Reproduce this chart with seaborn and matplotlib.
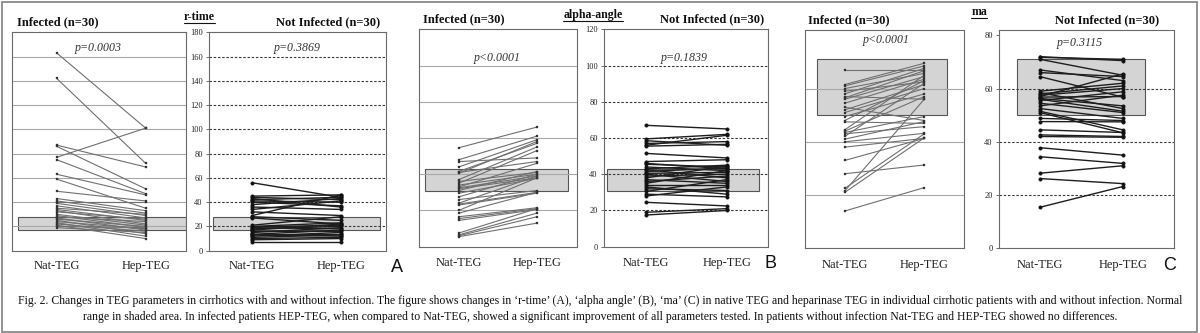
import numpy as np
import pandas as pd
import matplotlib
matplotlib.use("Agg")
import matplotlib.pyplot as plt
from matplotlib.patches import Rectangle
from matplotlib.lines import Line2D
import seaborn as sns

# ---------------- data ----------------
tests = ["Nat-TEG", "Hep-TEG"]

# r-time
rtime_inf_nat = [163, 142, 87, 86, 77, 75, 63, 59, 49, 43, 41, 40, 39, 37, 35,
                 34, 33, 32, 30, 29, 28, 27, 26, 25, 24, 23, 22, 21, 20, 19]
rtime_inf_hep = [101, 72, 69, 51, 101, 47, 46, 35, 41, 33, 31, 40, 29, 27, 30,
                 25, 22, 26, 21, 19, 24, 17, 20, 14, 18, 12, 16, 10, 19, 15]
rtime_non_nat = [56, 45, 44, 43, 42, 41, 40, 38, 36, 34, 32, 29, 28, 27, 21,
                 20, 19.5, 19, 18, 17, 16, 15, 14, 13.5, 13, 12, 11, 10, 9, 7]
rtime_non_hep = [44, 46, 42, 36, 44, 40, 37, 43, 34, 41, 29, 46, 25, 22, 28,
                 23, 21, 18, 20, 22, 16, 19, 14, 17, 12, 15, 13, 11, 10, 7]

# alpha-angle
alpha_inf_nat = [54.6, 48, 47, 44, 41.5, 41, 40.5, 37, 36, 35, 34, 33, 32.5, 32, 31,
                 29.5, 27.5, 26, 24, 23.5, 23, 20, 18.5, 16.5, 15.5, 14.5, 7.5, 6.5, 6, 5.5]
alpha_inf_hep = [66, 61, 49, 59, 57, 47, 58, 55, 41, 53, 40, 46, 39, 38, 41.5,
                 37.7, 40, 31, 39, 30, 29.5, 38, 30, 21.5, 21, 20.5, 21, 18.5, 16.5, 13]
alpha_non_nat = [67, 59.5, 58.5, 57, 56, 55.5, 51.5, 47, 46, 45.5, 44, 43, 42.5, 41.5, 40.5,
                 40, 39, 38, 37, 36, 35, 34, 33, 32, 30.5, 29, 28, 24.5, 19, 17.5]
alpha_non_hep = [65, 62, 56, 58, 61.5, 56.5, 49, 48, 43, 44, 42, 45, 38, 43.5, 41,
                 36, 40, 44.5, 35, 39, 42, 34, 29, 31, 37, 27.5, 33, 22.5, 21, 20]

# ma
ma_inf_nat = [67, 61.5, 61, 60, 59, 58, 57, 56.5, 56, 54.5, 53, 52, 51, 49.5, 48,
              47.5, 44.5, 44, 43.5, 43, 42, 41, 40, 38, 33, 28, 22.5, 21.5, 21, 14]
ma_inf_hep = [67, 69.5, 68.5, 65.7, 62.5, 67.6, 56, 66.7, 64.5, 63.5, 48, 61.5, 60, 58, 63,
              46.9, 65, 57, 49.5, 45.7, 62, 47.6, 43.2, 41.3, 41.3, 31.3, 43, 56, 41.5, 22.8]
ma_non_nat = [72, 71.7, 71, 67, 66, 64.5, 59, 58.5, 58, 57.5, 57, 56.8, 56.3, 56, 55.5,
              54.5, 53.5, 52.5, 51.5, 51, 48.8, 47.6, 44.5, 42.6, 42, 37.8, 34.4, 28.2, 26.2, 15.4]
ma_non_hep = [70.5, 71, 65, 63, 64.5, 56.8, 62, 52.5, 61, 60, 65.5, 57, 53.5, 51.5, 58.8,
              51, 57.5, 48.8, 44.5, 43.4, 48, 47.5, 43.5, 42, 41.7, 35, 31.9, 31, 24.3, 23.2]

p_values = ["p=0.0003", "p=0.3869", "p<0.0001", "p=0.1839", "p<0.0001", "p=0.3115"]
parameters = ["r-time", "alpha-angle", "ma"]
panel_letters = ["A", "B", "C"]
normal_ranges = [(17, 28), (31, 43), (50, 71)]
y_limits = [(0, 180), (0, 120), (0, 82)]
y_ticks = [list(range(0, 181, 20)), list(range(0, 121, 20)), list(range(0, 81, 20))]
grid_levels = [list(range(20, 161, 20)), list(range(20, 101, 20)), [20, 40, 60]]

caption_1 = ("Fig. 2. Changes in TEG parameters in cirrhotics with and without infection. "
             "The figure shows changes in \u2018r-time\u2019 (A), \u2018alpha angle\u2019 (B), "
             "\u2018ma\u2019 (C) in native TEG and heparinase TEG in individual cirrhotic "
             "patients with and without infection. Normal")
caption_2 = ("range in shaded area. In infected patients HEP-TEG, when compared to Nat-TEG, "
             "showed a significant improvement of all parameters tested. In patients without "
             "infection Nat-TEG and HEP-TEG showed no differences.")


def long_form(nat, hep):
    n = len(nat)
    return pd.DataFrame({
        "patient": list(range(n)) * 2,
        "pos": [0] * n + [1] * n,
        "value": list(nat) + list(hep),
    })


panel_data = [
    (long_form(rtime_inf_nat, rtime_inf_hep), long_form(rtime_non_nat, rtime_non_hep)),
    (long_form(alpha_inf_nat, alpha_inf_hep), long_form(alpha_non_nat, alpha_non_hep)),
    (long_form(ma_inf_nat, ma_inf_hep), long_form(ma_non_nat, ma_non_hep)),
]

# ---------------- layout (pixels on a 1200 x 333 canvas) ----------------
W, H = 1200, 333
sns.set_style("white")
plt.rcParams["font.family"] = ["Liberation Serif", "DejaVu Serif"]

fig = plt.figure(figsize=(W / 100, H / 100), dpi=100)
fig.patch.set_facecolor("white")


def px_axes(x0, x1, y0, y1):
    return fig.add_axes([x0 / W, 1 - y1 / H, (x1 - x0) / W, (y1 - y0) / H])


# axes boxes, x-limits and shaded band extents for each parameter panel
layout = [
    dict(boxes=[(12.3, 185.7, 32.3, 250.7), (209, 385.7, 32.3, 250.7)],
         xlims=[(-0.499, 1.450), (-0.49, 1.51)],
         band=[(0.033, 1.0), (0.024, 0.97)],
         inf_txt=(16.7, 22), non_txt=(380, 22), title=(199, 17),
         p_y=47.7, p_x=[98.5, 297.5], letter=(397, 267), pad=9.5),
    dict(boxes=[(419.3, 576.7, 29.3, 246.7), (604, 768.3, 29.3, 246.7)],
         xlims=[(-0.504, 1.512), (-0.521, 1.515)],
         band=[(0.038, 0.947), (0.016, 0.943)],
         inf_txt=(422.7, 19.3), non_txt=(764, 19.3), title=(593, 15),
         p_y=58.3, p_x=[497, 684.5], letter=(770, 263), pad=10),
    dict(boxes=[(805, 964, 30, 248.3), (999, 1174, 30, 248.3)],
         xlims=[(-0.5, 1.5), (-0.492, 1.618)],
         band=[(0.077, 0.891), (0.10, 0.837)],
         inf_txt=(808.3, 20.7), non_txt=(1159.3, 20.7), title=(979.3, 12.3),
         p_y=[40, 43.3], p_x=[886, 1080], letter=(1170, 265), pad=11),
]

frame_col = "#6a6a6a"
for k in range(3):
    L = layout[k]
    for side in range(2):
        x0, x1, y0, y1 = L["boxes"][side]
        ax = px_axes(x0, x1, y0, y1)
        df = panel_data[k][side]
        infected = side == 0
        if infected:
            sns.lineplot(data=df, x="pos", y="value", units="patient", estimator=None,
                         ax=ax, color="#707070", linewidth=0.8, marker="s",
                         markersize=1.9, markerfacecolor="#333333",
                         markeredgecolor="#333333", markeredgewidth=0.2,
                         legend=False, zorder=3)
        else:
            sns.lineplot(data=df, x="pos", y="value", units="patient", estimator=None,
                         ax=ax, color="#1e1e1e", linewidth=1.0, marker="o",
                         markersize=2.6, markerfacecolor="#111111",
                         markeredgecolor="#111111", markeredgewidth=0.2,
                         legend=False, zorder=3)
        ax.set_xlim(*L["xlims"][side])
        ax.set_ylim(*y_limits[k])
        lo, hi = normal_ranges[k]
        bx0, bx1 = L["band"][side]
        ax.add_patch(Rectangle((bx0, lo), bx1 - bx0, hi - lo,
                               transform=ax.get_yaxis_transform(),
                               facecolor="#d4d4d4", edgecolor="#555555",
                               linewidth=0.8, zorder=1))
        for g in grid_levels[k]:
            if infected:
                ax.axhline(g, color="#a8a8a8", linewidth=0.8, zorder=1.5)
            else:
                ax.axhline(g, color="#3a3a3a", linewidth=0.8,
                           linestyle=(0, (2.2, 1.6)), zorder=1.5)
        ax.set_xticks([0, 1])
        ax.set_xticklabels(tests, fontsize=9, color="#222222")
        ax.tick_params(axis="x", length=0, pad=L["pad"] / 1.389)
        if infected:
            ax.set_yticks([])
        else:
            ax.set_yticks(y_ticks[k])
            ax.set_yticklabels([str(t) for t in y_ticks[k]], fontsize=6,
                               color="#222222")
            ax.tick_params(axis="y", left=True, length=2, width=0.6,
                           color="#555555", pad=2.5)
        ax.set_xlabel("")
        ax.set_ylabel("")
        for s in ax.spines.values():
            s.set_color(frame_col)
            s.set_linewidth(0.8)
            s.set_visible(True)
        ax.set_facecolor("white")

        # p-value inside the box
        py = L["p_y"][side] if isinstance(L["p_y"], list) else L["p_y"]
        fig.text(L["p_x"][side] / W, 1 - py / H, p_values[2 * k + side],
                 fontsize=8.6, style="italic", ha="center", va="center",
                 color="#333333")

    # group titles
    fig.text(L["inf_txt"][0] / W, 1 - L["inf_txt"][1] / H, "Infected (n=30)",
             fontsize=9, fontweight="bold", ha="left", va="center", color="#111111")
    fig.text(L["non_txt"][0] / W, 1 - L["non_txt"][1] / H, "Not Infected (n=30)",
             fontsize=9, fontweight="bold", ha="right", va="center", color="#111111")
    t = fig.text(L["title"][0] / W, 1 - L["title"][1] / H, parameters[k],
                 fontsize=8.6, fontweight="bold", ha="center", va="center",
                 color="#111111")
    fig.text(L["letter"][0] / W, 1 - L["letter"][1] / H, panel_letters[k],
             fontsize=13, family=["Liberation Sans", "DejaVu Sans"],
             ha="center", va="center", color="#111111")

    # underline the parameter name
    fig.canvas.draw()
    bb = t.get_window_extent(fig.canvas.get_renderer())
    uy = (bb.y0 + 0.5) / H
    fig.add_artist(Line2D([bb.x0 / W, bb.x1 / W], [uy, uy], color="#111111",
                          linewidth=0.8, transform=fig.transFigure))

# caption
fig.text(0.5, 1 - 301 / H, caption_1, fontsize=8.5, ha="center", va="center",
         color="#111111")
fig.text(0.5, 1 - 317 / H, caption_2, fontsize=8.5, ha="center", va="center",
         color="#111111")

# outer frame
fig.add_artist(Rectangle((2 / W, 1 / H), 1195 / W, 330 / H, transform=fig.transFigure,
                         fill=False, edgecolor="#8a8a8a", linewidth=1.3))

fig.savefig("out.png", dpi=100, facecolor="white")
